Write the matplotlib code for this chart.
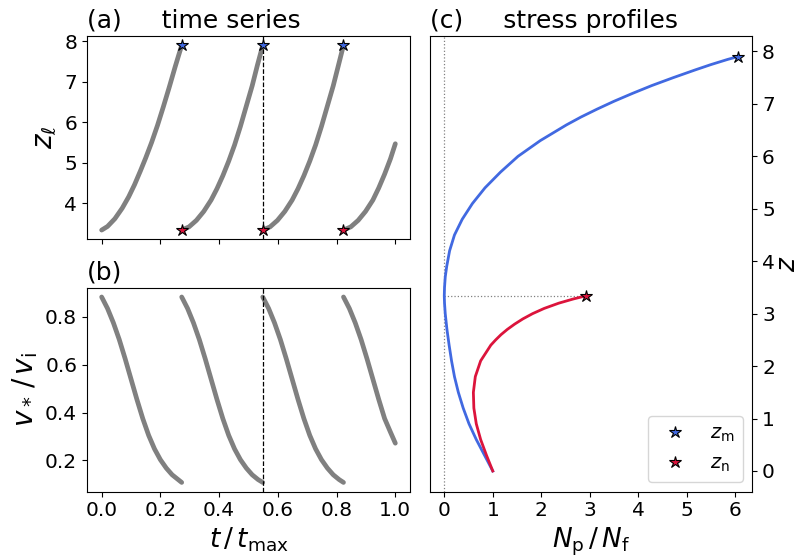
import matplotlib
matplotlib.use("Agg")
import matplotlib.pyplot as plt
from matplotlib.ticker import MultipleLocator

# ---- panel (a): lens position z_l over time, one list per growth cycle ----
t_a1 = [0.000, 0.020, 0.045, 0.070, 0.092, 0.112, 0.132, 0.150, 0.170, 0.190, 0.210, 0.230, 0.250, 0.2726]
z_a1 = [3.34, 3.43, 3.62, 3.88, 4.16, 4.46, 4.80, 5.12, 5.50, 5.92, 6.38, 6.86, 7.36, 7.90]
t_a2 = [0.2726, 0.2976, 0.3226, 0.3476, 0.3726, 0.3926, 0.4126, 0.4326, 0.4526, 0.4726, 0.4926, 0.5126, 0.5301, 0.5486]
z_a2 = [3.34, 3.42, 3.58, 3.80, 4.08, 4.36, 4.68, 5.04, 5.44, 5.90, 6.40, 6.90, 7.40, 7.90]
t_a3 = [0.5486, 0.5736, 0.5986, 0.6236, 0.6486, 0.6686, 0.6886, 0.7086, 0.7286, 0.7486, 0.7686, 0.7886, 0.8061, 0.8235]
z_a3 = [3.34, 3.42, 3.58, 3.80, 4.08, 4.36, 4.68, 5.04, 5.44, 5.90, 6.40, 6.90, 7.40, 7.90]
t_a4 = [0.8235, 0.8485, 0.8735, 0.8985, 0.9235, 0.9435, 0.9635, 0.9835, 1.000]
z_a4 = [3.34, 3.42, 3.58, 3.80, 4.08, 4.38, 4.72, 5.10, 5.47]

# ---- panel (b): v_* / v_i over time ----
t_b1 = [0.000, 0.020, 0.040, 0.060, 0.080, 0.100, 0.120, 0.140, 0.160, 0.180, 0.200, 0.220, 0.240, 0.2726]
v_b1 = [0.883, 0.835, 0.775, 0.705, 0.625, 0.540, 0.455, 0.375, 0.305, 0.248, 0.203, 0.168, 0.140, 0.108]
t_b2 = [0.2726, 0.2926, 0.3126, 0.3326, 0.3526, 0.3726, 0.3926, 0.4126, 0.4326, 0.4526, 0.4726, 0.4926, 0.5126, 0.5326, 0.5486]
v_b2 = [0.883, 0.835, 0.775, 0.705, 0.625, 0.540, 0.455, 0.375, 0.305, 0.248, 0.203, 0.168, 0.140, 0.120, 0.108]
t_b3 = [0.5486, 0.5686, 0.5886, 0.6086, 0.6286, 0.6486, 0.6686, 0.6886, 0.7086, 0.7286, 0.7486, 0.7686, 0.7886, 0.8086, 0.8235]
v_b3 = [0.883, 0.835, 0.775, 0.705, 0.625, 0.540, 0.455, 0.375, 0.305, 0.248, 0.203, 0.168, 0.140, 0.120, 0.108]
t_b4 = [0.8235, 0.8435, 0.8635, 0.8835, 0.9035, 0.9235, 0.9435, 0.9635, 0.9835, 1.000]
v_b4 = [0.883, 0.835, 0.775, 0.705, 0.625, 0.540, 0.455, 0.375, 0.318, 0.272]

# star markers in (a): times of lens initiation / maximum
t_star = [0.2726, 0.5486, 0.8235]
z_m = 7.90
z_n = 3.34
t_snap = 0.5486   # dashed line, time of the profiles in (c)

# ---- panel (c): stress profiles N_p / N_f against z ----
z_blue = [0.00, 0.30, 0.60, 0.90, 1.20, 1.50, 1.80, 2.10, 2.40, 2.70, 3.00, 3.20, 3.34,
          3.50, 3.70, 3.90, 4.20, 4.50, 4.80, 5.10, 5.40, 5.70, 6.00, 6.30, 6.60,
          6.75, 6.90, 7.05, 7.20, 7.35, 7.50, 7.65, 7.75, 7.85, 7.90]
n_blue = [1.00, 0.83, 0.66, 0.51, 0.39, 0.29, 0.21, 0.15, 0.10, 0.055, 0.02, 0.005, 0.00,
          0.005, 0.02, 0.05, 0.11, 0.21, 0.37, 0.58, 0.84, 1.16, 1.52, 1.98, 2.52,
          2.82, 3.15, 3.50, 3.88, 4.28, 4.72, 5.18, 5.50, 5.85, 6.05]
z_red = [0.00, 0.30, 0.60, 0.90, 1.20, 1.50, 1.80, 2.10, 2.40, 2.50, 2.60, 2.70, 2.80,
         2.90, 3.00, 3.10, 3.20, 3.28, 3.34]
n_red = [1.00, 0.87, 0.75, 0.66, 0.61, 0.60, 0.64, 0.75, 0.96, 1.06, 1.17, 1.30, 1.45,
         1.62, 1.82, 2.06, 2.36, 2.66, 2.92]

gray = "#808080"
blue = "#4169E1"
red = "#DC143C"

plt.rcParams["font.family"] = "DejaVu Sans"
plt.rcParams["mathtext.fontset"] = "dejavusans"

fig = plt.figure(figsize=(8.03, 5.58), dpi=100)
ax_a = fig.add_axes([0.1083, 0.5711, 0.4023, 0.3644])
ax_b = fig.add_axes([0.1083, 0.1188, 0.4023, 0.3656], sharex=ax_a)
ax_c = fig.add_axes([0.535, 0.1188, 0.4019, 0.8167])

# (a) time series of z_l
for t, z in [(t_a1, z_a1), (t_a2, z_a2), (t_a3, z_a3), (t_a4, z_a4)]:
    ax_a.plot(t, z, color=gray, lw=3.4, solid_capstyle="round")
ax_a.axvline(t_snap, color="k", ls="--", lw=0.9)
ax_a.plot(t_star, [z_m] * len(t_star), ls="none", marker="*", ms=9,
          mfc=blue, mec="k", mew=0.8, zorder=5)
ax_a.plot(t_star, [z_n] * len(t_star), ls="none", marker="*", ms=9,
          mfc=red, mec="k", mew=0.8, zorder=5)
ax_a.set_ylabel(r"$z_\ell$", fontsize=20)
ax_a.set_title("(a)     time series", loc="left", fontsize=18)
ax_a.yaxis.set_major_locator(MultipleLocator(1))
ax_a.tick_params(labelsize=14.5, labelbottom=False)

# (b) time series of v_*
for t, v in [(t_b1, v_b1), (t_b2, v_b2), (t_b3, v_b3), (t_b4, v_b4)]:
    ax_b.plot(t, v, color=gray, lw=3.4, solid_capstyle="round")
ax_b.axvline(t_snap, color="k", ls="--", lw=0.9)
ax_b.set_ylabel(r"$v_*\,/\,v_\mathrm{i}$", fontsize=20)
ax_b.set_xlabel(r"$t\,/\,t_\mathrm{max}$", fontsize=19)
ax_b.set_title("(b)", loc="left", fontsize=18)
ax_b.xaxis.set_major_locator(MultipleLocator(0.2))
ax_b.yaxis.set_major_locator(MultipleLocator(0.2))
ax_b.tick_params(labelsize=14.5)

# (c) stress profiles
ax_c.axvline(0, color="gray", ls=":", lw=0.9)
ax_c.plot([0, n_red[-1]], [z_n, z_n], color="gray", ls=":", lw=0.9)
ax_c.plot(n_blue, z_blue, color=blue, lw=2)
ax_c.plot(n_red, z_red, color=red, lw=2)
ax_c.plot(n_blue[-1], z_blue[-1], ls="none", marker="*", ms=9,
          mfc=blue, mec="k", mew=0.8, label=r"$z_\mathrm{m}$", zorder=5)
ax_c.plot(n_red[-1], z_red[-1], ls="none", marker="*", ms=9,
          mfc=red, mec="k", mew=0.8, label=r"$z_\mathrm{n}$", zorder=5)
ax_c.yaxis.tick_right()
ax_c.yaxis.set_label_position("right")
ax_c.set_ylabel(r"$z$", fontsize=19, labelpad=0)
ax_c.set_xlabel(r"$N_\mathrm{p}\,/\,N_\mathrm{f}$", fontsize=19)
ax_c.set_title("(c)     stress profiles", loc="left", fontsize=18)
ax_c.xaxis.set_major_locator(MultipleLocator(1))
ax_c.yaxis.set_major_locator(MultipleLocator(1))
ax_c.tick_params(labelsize=14.5)
ax_c.legend(loc="lower right", fontsize=14)

fig.savefig("out.png", dpi=100)
